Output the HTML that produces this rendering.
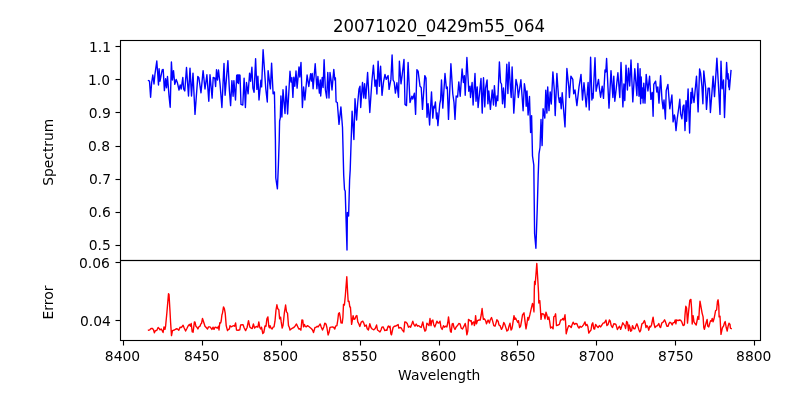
<!DOCTYPE html>
<html lang="en"><head><meta charset="utf-8"><title>20071020_0429m55_064</title>
<style>html,body{margin:0;padding:0;background:#fff;overflow:hidden}body{width:800px;height:400px}</style></head>
<body>
<svg width="800" height="400" viewBox="0 0 800 400" style="display:block">
<rect width="800" height="400" fill="#fff"/>
<polyline points="148.5,80.6 149.5,81.2 150.6,97.2 151.6,83.0 152.8,75.0 154.0,84.0 155.0,73.8 156.8,61.0 158.5,85.0 159.1,68.8 160.0,81.2 162.2,69.8 163.2,69.4 164.4,90.6 165.6,78.8 166.5,87.8 167.5,76.5 169.0,95.6 170.2,107.2 171.4,61.9 172.4,80.0 173.5,70.6 174.8,84.4 176.2,79.4 177.5,83.1 179.0,90.0 180.2,85.0 181.2,89.0 182.8,77.5 183.6,88.8 184.8,91.0 186.5,67.5 188.5,96.0 190.0,68.1 191.5,96.0 193.0,73.1 195.0,114.4 197.8,76.5 198.9,77.8 201.0,92.8 203.1,70.6 205.0,89.0 206.9,74.8 208.8,101.2 210.0,74.8 212.1,98.1 213.2,77.5 214.8,78.1 215.6,86.5 216.5,69.8 217.5,80.0 218.5,70.0 220.0,83.5 221.9,107.5 224.0,63.5 225.1,95.2 227.9,60.6 229.4,90.2 230.6,105.6 231.9,80.6 233.1,96.2 233.9,80.6 235.5,100.0 236.7,75.3 237.3,82.5 237.9,74.8 238.5,83.5 239.1,75.0 240.0,75.2 241.0,104.4 242.8,105.0 244.1,78.1 245.4,107.5 246.5,82.5 248.1,93.8 249.6,73.1 250.6,81.2 251.9,67.2 252.9,88.0 254.1,92.2 255.6,58.8 256.9,89.4 257.9,76.2 259.0,100.0 260.9,80.2 261.6,86.9 263.1,49.8 265.8,89.0 267.3,102.0 268.1,70.6 270.4,88.8 271.6,63.1 273.1,93.8 274.4,92.0 275.4,140.0 275.8,178.0 277.4,188.8 278.4,165.0 279.2,140.0 279.6,121.0 280.3,117.8 280.9,96.0 281.9,117.0 283.0,89.8 285.0,113.5 286.2,86.2 287.6,114.0 290.0,71.2 291.0,82.0 291.9,77.8 292.9,97.4 293.8,77.2 294.8,86.2 296.0,71.0 297.1,88.1 299.0,66.9 299.8,77.0 301.0,62.4 302.4,107.5 303.6,87.0 304.9,100.0 307.1,75.0 308.8,86.5 310.6,73.8 311.5,81.0 312.2,73.5 313.1,88.8 315.2,63.8 316.9,88.8 317.9,76.5 319.4,93.1 320.3,80.0 320.7,96.0 322.2,77.5 323.1,87.5 324.1,59.8 325.4,90.0 326.7,98.0 327.8,72.5 329.0,98.0 330.0,72.5 331.2,81.2 332.0,90.0 333.8,69.4 334.8,80.0 335.4,77.8 336.1,101.9 337.3,102.5 339.0,124.4 340.9,106.9 342.5,127.5 343.7,175.0 344.5,189.5 345.2,191.0 347.0,250.0 347.4,212.5 348.6,216.0 349.6,180.0 350.2,170.0 352.1,111.2 353.9,139.5 355.0,98.8 356.6,120.0 357.7,103.0 359.0,89.0 360.0,86.2 360.7,107.5 362.5,82.5 363.8,98.0 364.6,83.8 365.8,98.5 367.6,72.5 369.8,112.5 371.9,81.2 373.4,65.2 375.0,86.2 376.0,80.0 376.9,94.0 378.1,61.2 379.4,86.2 380.6,66.2 382.0,95.3 383.5,81.9 385.0,74.4 386.2,79.4 388.1,75.6 389.1,89.4 390.9,79.4 392.1,55.0 393.1,80.0 394.2,82.0 395.4,93.1 396.9,82.8 398.5,97.2 399.4,61.1 401.0,83.8 402.2,75.0 404.0,59.4 405.0,104.4 406.5,105.6 408.1,62.5 410.0,102.5 411.9,96.2 412.8,99.0 414.4,93.1 415.6,114.4 416.9,69.8 418.1,71.2 420.0,86.2 421.2,87.5 422.5,109.4 424.8,75.6 426.0,78.1 427.0,117.2 428.1,103.8 429.6,125.0 431.5,91.9 432.8,118.1 433.8,106.2 434.4,108.0 435.4,101.9 436.5,118.8 437.1,113.0 437.9,125.6 439.8,103.8 440.6,100.0 441.5,80.0 442.8,108.1 445.0,73.5 446.4,88.5 447.3,87.0 448.5,119.4 450.9,63.8 452.8,94.0 454.0,102.5 455.0,119.4 456.2,96.0 457.6,97.0 458.8,81.9 460.2,96.2 462.1,69.0 463.4,82.5 464.4,75.6 465.2,95.3 466.9,57.5 468.8,91.2 470.0,86.2 470.5,97.5 472.1,82.5 473.1,105.0 475.0,73.5 476.0,101.2 477.2,86.9 478.1,107.5 481.0,78.5 482.2,113.1 483.5,77.8 484.8,106.9 485.6,88.0 487.1,80.0 487.9,103.8 488.8,91.0 490.4,109.4 492.2,90.0 493.5,105.0 494.4,85.6 495.9,106.2 497.0,96.0 497.8,100.6 499.4,61.9 500.6,82.5 501.5,84.0 502.5,103.8 503.5,88.0 504.8,107.5 506.8,64.2 507.9,93.5 509.0,62.2 510.3,86.0 511.2,97.5 512.1,66.9 513.8,113.1 516.0,79.4 517.4,86.0 518.3,97.5 520.9,79.8 523.1,110.8 524.4,83.8 525.5,91.0 526.2,106.2 527.0,91.0 528.1,115.0 529.5,96.5 530.6,132.5 531.6,115.6 532.5,156.0 533.8,165.0 534.2,200.0 534.6,233.8 535.9,248.2 537.2,210.0 538.2,175.0 539.0,153.8 540.0,147.5 541.0,119.4 542.1,145.6 543.1,108.8 544.8,118.1 545.8,90.3 546.9,113.1 547.7,86.9 549.0,110.6 550.2,91.9 551.3,104.0 552.9,71.9 554.3,90.0 555.2,115.6 556.9,73.5 558.5,96.9 559.4,102.5 560.3,97.5 561.2,108.8 562.2,92.8 565.0,126.9 566.9,68.5 568.8,87.5 569.4,97.5 570.9,76.2 572.8,79.4 573.7,93.8 575.0,90.0 576.9,105.6 579.0,86.9 581.0,74.4 582.5,100.0 584.0,82.8 586.2,106.9 588.1,82.5 589.2,110.0 590.6,57.2 591.9,100.0 592.5,93.8 593.1,98.1 595.0,57.8 596.1,91.2 598.5,79.4 599.6,90.0 600.6,97.2 602.2,86.2 603.5,98.4 605.0,70.0 605.8,72.0 606.6,58.5 608.0,88.0 609.0,108.1 611.0,70.6 612.9,97.5 613.8,76.2 614.8,101.2 616.3,88.0 617.9,72.8 619.8,97.5 621.0,62.5 622.9,106.9 623.9,84.0 624.8,100.6 626.0,65.2 627.4,90.0 628.5,68.1 629.7,86.0 631.0,60.0 632.8,101.9 634.8,68.8 636.9,95.6 637.9,63.5 639.0,96.2 640.1,68.8 640.6,103.8 641.2,76.9 641.9,98.0 642.6,88.0 643.1,103.0 643.8,83.1 645.0,103.1 646.2,74.4 647.9,91.0 649.6,76.2 650.9,99.4 652.2,92.5 653.1,116.2 653.8,84.4 655.6,81.2 656.8,92.0 657.8,86.9 659.0,103.1 660.6,75.6 662.0,100.0 663.1,108.8 664.0,100.0 665.4,119.0 666.2,90.6 667.9,84.4 669.8,108.8 671.9,95.0 673.1,121.9 674.4,115.0 675.0,118.0 676.0,130.6 677.2,119.0 678.8,107.5 679.8,99.3 680.6,113.8 681.9,118.8 683.1,106.2 684.0,105.0 685.0,130.6 686.0,100.6 686.6,121.2 688.1,88.9 689.6,133.1 690.9,92.5 691.6,103.0 692.2,88.1 693.0,96.0 694.0,102.5 695.0,92.0 696.5,76.2 698.1,111.9 699.6,69.0 700.6,73.1 701.9,86.2 702.9,103.8 703.8,71.0 705.6,87.5 706.5,109.4 708.1,88.1 709.4,88.1 710.4,112.5 711.9,93.1 713.1,76.2 714.5,96.6 716.9,58.1 718.5,86.2 720.0,114.4 721.0,61.2 722.1,88.8 723.5,80.0 724.5,117.5 726.6,62.5 727.6,79.0 728.1,73.8 728.7,87.0 729.0,80.0 729.4,89.6 731.0,70.6" fill="none" stroke="#0000ff" stroke-width="1.39" stroke-linejoin="round" stroke-linecap="square"/>
<polyline points="148.5,330.2 149.8,329.8 151.0,328.5 152.5,328.5 153.5,329.8 154.4,332.8 155.2,331.0 156.9,330.2 158.1,327.5 159.4,328.8 160.0,329.8 161.2,329.0 162.2,330.6 163.1,332.5 164.0,326.9 165.0,329.4 165.6,326.2 166.9,312.5 168.5,293.8 169.0,294.4 170.0,311.2 170.6,322.5 171.5,335.6 172.5,330.6 174.4,330.0 176.2,328.8 177.5,329.0 178.8,330.2 180.0,327.2 181.2,327.5 181.9,326.9 183.1,325.2 184.0,327.5 185.6,331.0 186.9,328.5 188.1,326.0 189.4,324.4 190.4,326.2 191.2,323.5 192.2,331.9 193.1,332.2 194.4,321.9 195.0,322.2 195.9,326.2 196.9,327.2 197.9,329.0 198.8,326.9 200.0,326.2 200.9,323.8 201.5,323.5 202.5,318.5 203.8,322.5 205.0,326.2 206.2,327.5 207.5,329.0 208.5,326.9 210.0,326.9 211.0,328.1 211.9,329.4 213.1,327.2 214.0,329.4 215.0,327.2 216.2,327.5 217.5,328.1 218.5,326.2 219.0,330.0 219.8,322.8 220.6,323.1 221.2,321.0 221.9,315.0 222.5,313.1 223.5,306.9 224.4,308.8 225.2,313.1 226.2,325.6 227.5,330.6 228.5,329.4 229.4,329.0 230.0,325.6 231.2,326.9 232.5,326.2 233.8,325.6 234.6,326.2 235.6,322.9 236.5,330.0 238.1,330.2 239.8,329.8 240.6,325.0 242.2,324.8 243.1,324.8 244.0,327.5 245.6,330.6 247.1,327.5 248.5,320.6 249.8,326.9 251.0,328.1 252.2,328.5 253.4,324.0 254.6,328.1 255.6,326.9 256.9,326.5 257.9,327.2 258.8,321.9 259.8,327.5 260.6,329.0 261.5,327.2 262.8,333.5 263.8,332.5 265.0,326.0 266.0,326.2 266.9,318.8 267.9,316.9 268.8,326.2 269.4,327.8 270.0,325.6 271.0,328.1 272.1,329.0 273.1,327.2 274.0,326.9 275.0,321.2 276.0,310.0 276.9,304.8 277.8,308.8 278.8,309.8 279.6,318.8 280.6,317.2 281.2,321.9 282.2,328.1 283.1,325.0 284.4,312.5 285.6,305.0 286.5,311.9 287.5,313.1 288.5,325.6 289.4,327.5 290.0,330.0 291.2,329.0 292.5,328.1 293.8,327.5 295.0,326.2 296.5,324.0 297.5,326.2 298.8,329.0 300.0,328.8 300.9,330.2 301.9,320.0 302.8,320.2 303.5,326.9 304.4,324.4 305.2,326.2 306.2,326.9 307.5,325.6 308.8,326.5 310.0,327.5 311.5,328.8 312.5,330.0 313.5,332.5 315.0,327.5 316.2,327.2 317.2,326.2 318.1,326.9 319.0,325.6 320.2,324.0 321.2,326.9 322.5,330.0 323.8,326.9 324.8,323.1 326.0,324.0 326.9,327.5 328.1,335.0 329.0,332.5 330.0,327.5 331.2,327.2 332.5,326.9 333.8,327.5 334.8,329.0 335.6,326.2 336.9,325.6 337.8,320.0 338.5,313.8 339.4,312.8 340.2,316.9 341.0,322.8 342.2,323.1 342.9,317.5 343.5,304.4 344.4,305.0 345.3,296.0 346.8,276.8 347.6,292.0 348.2,301.5 349.0,301.2 349.8,306.9 350.4,306.9 351.0,315.0 351.6,324.4 352.2,321.2 353.1,315.6 354.0,319.4 355.0,318.8 356.0,316.2 356.9,315.6 357.8,321.9 358.8,323.8 359.8,326.5 361.2,322.2 362.8,321.2 363.8,323.1 364.8,326.2 366.2,325.0 367.2,328.8 368.4,330.0 369.8,323.8 371.0,327.5 372.2,329.0 373.8,329.8 375.2,328.5 376.6,325.0 377.5,330.0 378.8,331.0 380.0,331.9 381.0,330.0 381.9,327.2 383.1,326.9 384.0,328.8 384.8,330.6 386.0,330.0 386.9,330.2 387.8,326.9 388.5,326.0 389.4,327.5 390.0,326.2 390.9,333.8 391.5,334.8 392.5,330.0 393.1,327.5 394.4,326.2 396.0,326.0 397.2,325.2 398.1,324.4 398.8,328.1 400.0,327.5 401.2,327.8 402.2,329.8 403.8,331.9 404.8,321.9 406.0,322.2 407.2,323.5 408.5,327.2 409.8,326.2 410.6,327.2 411.9,323.8 412.8,321.2 413.8,324.4 415.0,326.2 416.2,324.0 417.5,326.2 418.8,325.6 420.0,326.9 421.2,327.5 422.8,321.9 423.8,327.5 425.0,331.2 425.9,330.0 426.9,323.1 428.1,324.4 429.0,325.6 430.0,318.5 431.0,325.6 431.9,320.6 432.9,320.0 433.8,325.0 434.8,326.9 436.0,323.8 436.9,321.2 438.1,323.1 439.0,322.8 440.0,321.2 441.0,327.5 442.2,329.4 443.5,325.6 444.4,327.2 445.6,326.2 446.9,326.9 447.8,322.5 448.5,316.9 449.4,323.8 450.4,331.2 451.2,332.2 452.2,323.8 453.1,323.5 454.0,327.5 455.0,329.4 456.2,326.9 457.5,325.6 458.8,323.5 460.0,323.8 461.2,328.1 462.5,329.0 464.0,326.2 465.2,323.5 466.0,327.5 466.9,334.8 467.8,331.2 468.5,319.4 469.4,320.0 470.2,321.0 471.2,320.6 471.9,324.8 472.8,322.5 473.8,321.9 474.4,325.6 475.0,323.1 475.6,315.6 476.5,323.8 477.5,320.6 479.0,320.0 480.2,320.0 481.2,315.0 482.1,308.5 482.8,315.0 483.4,319.4 484.4,318.8 485.6,320.6 486.5,323.8 487.5,321.2 488.1,320.0 489.4,323.1 490.2,320.0 491.5,317.5 492.5,320.6 493.8,325.6 495.0,326.2 496.0,323.1 496.9,319.8 498.1,321.2 499.0,325.0 500.0,325.6 501.5,329.4 502.5,327.5 503.8,322.5 504.8,324.4 505.6,326.9 506.9,331.0 508.1,330.0 509.0,326.2 510.0,323.1 511.0,330.0 511.9,328.8 512.5,325.6 514.0,315.6 514.8,319.4 515.6,318.1 516.5,320.0 517.8,322.5 518.5,320.6 519.6,327.5 520.6,326.2 521.5,321.2 522.5,315.0 524.0,312.8 525.0,321.2 526.0,328.8 526.9,323.8 527.8,317.5 528.5,320.0 529.8,315.0 531.2,308.8 532.5,303.5 533.1,305.0 534.0,311.9 534.3,290.0 534.6,281.5 535.2,284.5 536.8,263.5 538.0,283.0 538.6,294.0 538.8,303.1 539.8,300.6 540.4,308.8 541.0,319.4 541.9,313.8 543.1,314.0 544.0,314.4 545.0,318.8 546.0,312.2 546.9,315.0 547.8,319.4 548.8,316.9 549.6,321.2 550.6,328.1 551.9,326.9 553.1,328.8 553.8,316.9 554.8,316.2 555.6,313.8 556.5,325.6 558.1,325.0 559.4,324.4 560.6,320.0 561.9,319.8 562.8,318.5 563.8,320.0 565.0,314.8 565.6,322.5 566.2,333.8 567.5,328.8 568.8,325.6 570.0,326.2 571.2,327.5 572.2,324.4 573.1,322.2 574.4,324.4 575.6,323.5 576.9,323.8 578.1,326.9 579.0,328.1 580.0,326.2 581.2,327.2 582.5,326.2 583.8,324.4 585.0,321.9 585.9,325.6 586.9,324.4 587.8,326.2 588.8,333.1 590.0,331.2 591.0,330.0 591.9,324.4 592.8,322.8 593.8,328.8 594.6,329.0 595.6,324.4 596.9,326.2 598.1,327.5 599.4,325.6 600.6,326.9 601.9,325.0 603.1,323.1 604.4,322.8 606.0,320.0 606.9,325.6 608.1,324.4 609.4,320.0 610.2,321.0 611.2,325.6 612.5,327.5 613.8,323.8 615.0,324.0 615.9,324.4 617.4,329.5 618.6,327.5 619.6,326.2 620.6,329.4 621.5,326.9 622.8,322.8 623.8,324.4 624.8,325.6 625.6,328.5 626.6,321.5 627.5,322.5 628.5,330.6 629.1,325.0 630.0,327.5 630.6,331.2 631.6,330.6 632.5,325.6 633.8,328.8 635.0,328.8 636.0,325.6 636.9,323.8 637.8,326.2 638.8,329.4 639.8,331.9 640.6,330.6 641.9,323.8 643.1,323.1 644.4,320.6 645.0,322.2 646.0,327.5 646.9,325.6 647.8,326.9 648.8,330.2 649.8,326.2 650.6,326.9 651.5,325.0 652.5,320.0 653.1,317.2 654.0,323.8 655.0,327.5 656.2,326.2 657.5,325.6 658.8,323.5 659.8,326.9 660.6,327.5 661.9,322.8 663.1,322.2 664.6,319.8 665.6,322.2 666.9,326.2 668.1,326.2 669.0,323.5 670.0,322.2 671.2,323.1 672.2,325.0 673.1,322.8 674.4,322.5 675.2,320.0 675.9,323.8 676.5,320.0 678.1,320.6 679.4,320.0 680.6,320.2 681.9,322.2 683.1,325.6 684.4,324.8 685.0,315.0 685.8,306.2 686.6,308.1 687.5,323.1 688.5,312.5 689.8,300.2 690.9,299.4 691.6,308.8 692.2,324.0 693.1,315.6 694.0,321.9 695.2,323.8 696.2,325.0 697.2,320.0 697.9,316.5 698.8,319.4 699.4,308.8 700.0,301.2 701.0,306.9 702.1,313.1 703.1,316.9 703.8,327.5 704.4,329.4 705.2,326.2 706.2,322.5 707.1,319.4 707.8,326.2 708.8,326.9 709.8,323.1 710.6,320.6 711.5,321.2 712.2,318.5 713.1,321.9 714.0,318.8 715.0,313.8 715.6,310.6 716.6,310.0 717.5,301.2 718.1,299.8 718.8,306.2 719.1,316.9 720.0,316.2 720.6,327.5 721.0,334.4 721.9,330.0 722.5,327.5 723.5,326.2 724.4,323.1 725.2,321.5 726.2,327.5 727.2,331.0 728.1,326.2 729.0,323.1 730.0,324.4 730.4,328.1 731.2,328.5" fill="none" stroke="#ff0000" stroke-width="1.39" stroke-linejoin="round" stroke-linecap="square"/>
<g fill="none" stroke="#000" stroke-width="1.11">
<rect x="120.5" y="40.5" width="640" height="220"/>
<rect x="120.5" y="260.5" width="640" height="80"/>
</g><g fill="#000">
<rect x="122.945" y="341" width="1.11" height="4.5"/>
<rect x="201.945" y="341" width="1.11" height="4.5"/>
<rect x="280.945" y="341" width="1.11" height="4.5"/>
<rect x="359.945" y="341" width="1.11" height="4.5"/>
<rect x="438.945" y="341" width="1.11" height="4.5"/>
<rect x="516.945" y="341" width="1.11" height="4.5"/>
<rect x="595.945" y="341" width="1.11" height="4.5"/>
<rect x="674.945" y="341" width="1.11" height="4.5"/>
<rect x="753.945" y="341" width="1.11" height="4.5"/>
<rect x="115.5" y="45.945" width="4.5" height="1.11"/>
<rect x="115.5" y="78.945" width="4.5" height="1.11"/>
<rect x="115.5" y="111.945" width="4.5" height="1.11"/>
<rect x="115.5" y="145.945" width="4.5" height="1.11"/>
<rect x="115.5" y="178.945" width="4.5" height="1.11"/>
<rect x="115.5" y="211.945" width="4.5" height="1.11"/>
<rect x="115.5" y="244.945" width="4.5" height="1.11"/>
<rect x="115.5" y="261.945" width="4.5" height="1.11"/>
<rect x="115.5" y="319.945" width="4.5" height="1.11"/>
</g>
<g opacity="0.999" font-family="'DejaVu Sans', 'Liberation Sans', sans-serif" font-size="13.889px" fill="#000">
<text x="122.50" y="360.55" text-anchor="middle">8400</text>
<text x="201.75" y="360.55" text-anchor="middle">8450</text>
<text x="280.50" y="360.55" text-anchor="middle">8500</text>
<text x="359.75" y="360.55" text-anchor="middle">8550</text>
<text x="438.75" y="360.55" text-anchor="middle">8600</text>
<text x="517.75" y="360.55" text-anchor="middle">8650</text>
<text x="596.50" y="360.55" text-anchor="middle">8700</text>
<text x="675.75" y="360.55" text-anchor="middle">8750</text>
<text x="753.75" y="360.55" text-anchor="middle">8800</text>
<text x="111.05" y="51.55" text-anchor="end">1.1</text>
<text x="110.05" y="84.55" text-anchor="end">1.0</text>
<text x="110.80" y="117.55" text-anchor="end">0.9</text>
<text x="110.05" y="150.55" text-anchor="end">0.8</text>
<text x="111.05" y="183.55" text-anchor="end">0.7</text>
<text x="110.80" y="216.55" text-anchor="end">0.6</text>
<text x="110.80" y="249.55" text-anchor="end">0.5</text>
<text x="109.80" y="267.55" text-anchor="end">0.06</text>
<text x="110.80" y="325.55" text-anchor="end">0.04</text>
<text x="439.25" y="379.50" text-anchor="middle">Wavelength</text>
<text transform="translate(52.70,152.25) rotate(-90)" text-anchor="middle">Spectrum</text>
<text transform="translate(52.70,302.50) rotate(-90)" text-anchor="middle">Error</text>
<text transform="translate(439.00,31.70) scale(0.995,1.06)" text-anchor="middle" font-size="16.667px">20071020_0429m55_064</text>
</g>
</svg>
</body></html>
